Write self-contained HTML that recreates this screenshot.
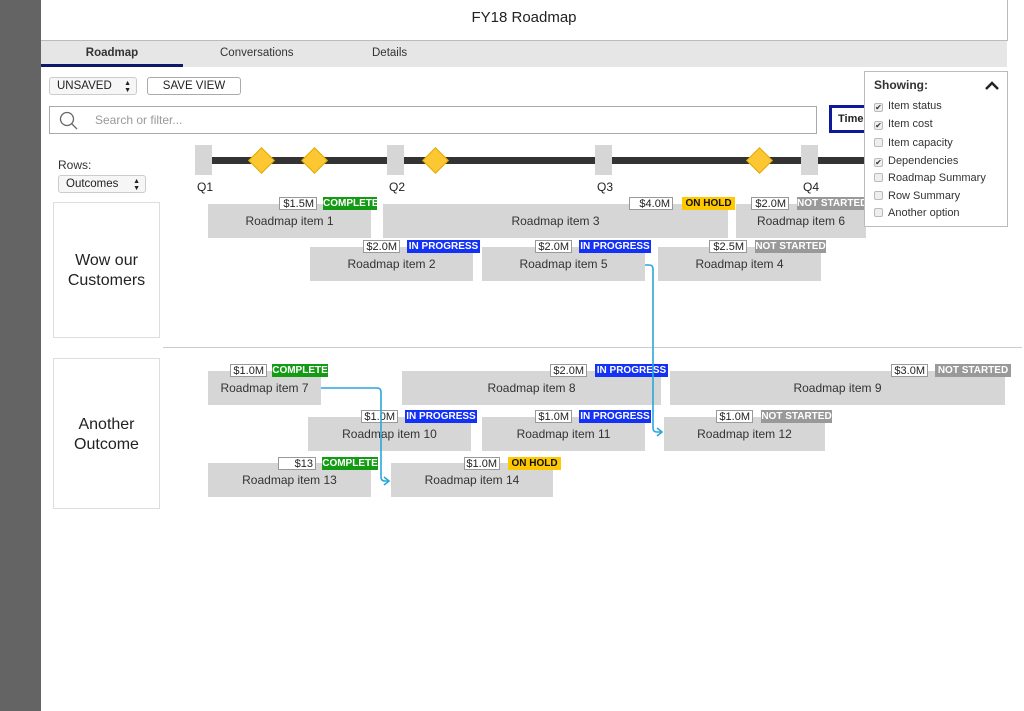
<!DOCTYPE html>
<html><head><meta charset="utf-8"><style>
*{margin:0;padding:0;box-sizing:border-box}
body{width:1024px;height:711px;position:relative;background:#fff;font-family:"Liberation Sans",Arial,sans-serif;overflow:hidden;color:#222}
.a{position:absolute}
.bar{position:absolute;background:#d6d6d6;font-size:12px;color:#333;text-align:center;line-height:34px;height:34px}
.c{position:absolute;height:13px;border:1px solid #999;background:#fff;font-size:11px;line-height:12px;text-align:right;padding-right:2px;color:#222}
.s{position:absolute;height:13px;font-size:10px;font-weight:bold;color:#fff;line-height:13px;text-align:center;white-space:nowrap;overflow:hidden}
.g{background:#149b14}.b{background:#1432f5}.y{background:#ffc800;color:#111}.n{background:#999}
.q{position:absolute;background:#d6d6d6;width:17px;height:30px;top:145px}
.ql{position:absolute;top:180px;font-size:12px}
.d{position:absolute;width:19px;height:19px;background:#fcc733;border:1px solid #e0a800;transform:rotate(45deg);top:151px}
.cb{display:inline-block;width:9px;height:9px;border:1px solid #bbb;background:#eee;border-radius:2px;margin-right:5px;vertical-align:-1px;font-size:8px;line-height:8px;text-align:center;color:#333}
.row{font-size:11px;color:#333;height:17.5px;line-height:17px}
</style></head><body>
<div class="a" style="left:0;top:0;width:41px;height:711px;background:#646464"></div>
<div class="a" style="left:41px;top:0;width:967px;height:41px;border-right:1px solid #bbb;border-bottom:1px solid #bbb;text-align:center;font-size:15px;line-height:36px">FY18 Roadmap</div>
<div class="a" style="left:41px;top:41px;width:966px;height:26px;background:#e6e6e6;font-size:11px;color:#333"></div>
<div class="a" style="left:41px;top:47px;width:142px;text-align:center;font-size:11.5px;font-weight:bold;color:#333">Roadmap</div>
<div class="a" style="left:41px;top:64px;width:142px;height:3px;background:#10186e"></div>
<div class="a" style="left:220px;top:47px;font-size:11.5px;color:#333">Conversations</div>
<div class="a" style="left:372px;top:47px;font-size:11.5px;color:#333">Details</div>
<div class="a" style="left:49px;top:77px;width:88px;height:18px;border:1px solid #ccc;border-radius:3px;background:#f6f6f6;font-size:11.5px;line-height:16px;padding-left:7px">UNSAVED<span style="position:absolute;right:5px;font-size:7px;line-height:7px;top:2px">▲<br>▼</span></div>
<div class="a" style="left:147px;top:77px;width:94px;height:18px;border:1px solid #aaa;border-radius:3px;font-size:11.5px;line-height:16px;text-align:center">SAVE VIEW</div>
<div class="a" style="left:49px;top:106px;width:768px;height:28px;border:1px solid #aaa"></div>
<svg class="a" style="left:58px;top:110px" width="24" height="22"><circle cx="9" cy="9" r="6.5" fill="none" stroke="#666" stroke-width="1.3"/><line x1="13.5" y1="13.5" x2="19" y2="19" stroke="#666" stroke-width="1.3"/></svg>
<div class="a" style="left:95px;top:113px;font-size:12px;color:#999">Search or filter...</div>
<div class="a" style="left:829px;top:105px;width:45px;height:28px;border:3px solid #10189a;font-size:11px;font-weight:bold;padding:5px 0 0 6px;overflow:hidden">Timeline</div>
<div class="a" style="left:58px;top:158px;font-size:12px;color:#333">Rows:</div>
<div class="a" style="left:58px;top:175px;width:88px;height:18px;border:1px solid #ccc;border-radius:3px;background:#f6f6f6;font-size:11.5px;line-height:16px;padding-left:7px">Outcomes<span style="position:absolute;right:5px;font-size:7px;line-height:7px;top:2px">▲<br>▼</span></div>
<div class="a" style="left:53px;top:202px;width:107px;height:136px;border:1px solid #ddd;font-size:16px;text-align:center;padding-top:48px;line-height:20px">Wow our<br>Customers</div>
<div class="a" style="left:53px;top:358px;width:107px;height:151px;border:1px solid #ddd;font-size:16px;text-align:center;padding-top:56px;line-height:20px">Another<br>Outcome</div>
<div class="a" style="left:163px;top:347px;width:859px;height:1px;background:#ccc"></div>
<div class="a" style="left:212px;top:157px;width:660px;height:7px;background:#333"></div>
<div class="q" style="left:195px"></div><div class="q" style="left:387px"></div><div class="q" style="left:595px"></div><div class="q" style="left:801px"></div>
<div class="ql" style="left:197px">Q1</div><div class="ql" style="left:389px">Q2</div><div class="ql" style="left:597px">Q3</div><div class="ql" style="left:803px">Q4</div>
<div class="d" style="left:252px"></div><div class="d" style="left:305px"></div><div class="d" style="left:426px"></div><div class="d" style="left:750px"></div>

<div class="bar" style="left:208px;top:204px;width:163px">Roadmap item 1</div>
<div class="c" style="left:279px;top:197px;width:38px">$1.5M</div><div class="s g" style="left:323px;top:197px;width:54px">COMPLETE</div>
<div class="bar" style="left:383px;top:204px;width:345px">Roadmap item 3</div>
<div class="c" style="left:629px;top:197px;width:44px">$4.0M</div><div class="s y" style="left:682px;top:197px;width:53px">ON HOLD</div>
<div class="bar" style="left:736px;top:204px;width:130px">Roadmap item 6</div>
<div class="c" style="left:751px;top:197px;width:38px">$2.0M</div><div class="s n" style="left:797px;top:197px;width:68px">NOT STARTED</div>
<div class="bar" style="left:310px;top:247px;width:163px">Roadmap item 2</div>
<div class="c" style="left:363px;top:240px;width:37px">$2.0M</div><div class="s b" style="left:407px;top:240px;width:73px">IN PROGRESS</div>
<div class="bar" style="left:482px;top:247px;width:163px">Roadmap item 5</div>
<div class="c" style="left:535px;top:240px;width:37px">$2.0M</div><div class="s b" style="left:579px;top:240px;width:72px">IN PROGRESS</div>
<div class="bar" style="left:658px;top:247px;width:163px">Roadmap item 4</div>
<div class="c" style="left:709px;top:240px;width:38px">$2.5M</div><div class="s n" style="left:755px;top:240px;width:71px">NOT STARTED</div>

<div class="bar" style="left:208px;top:371px;width:113px">Roadmap item 7</div>
<div class="c" style="left:230px;top:364px;width:37px">$1.0M</div><div class="s g" style="left:272px;top:364px;width:56px">COMPLETE</div>
<div class="bar" style="left:402px;top:371px;width:259px">Roadmap item 8</div>
<div class="c" style="left:550px;top:364px;width:37px">$2.0M</div><div class="s b" style="left:595px;top:364px;width:73px">IN PROGRESS</div>
<div class="bar" style="left:670px;top:371px;width:335px">Roadmap item 9</div>
<div class="c" style="left:891px;top:364px;width:37px">$3.0M</div><div class="s n" style="left:935px;top:364px;width:76px">NOT STARTED</div>
<div class="bar" style="left:308px;top:417px;width:163px">Roadmap item 10</div>
<div class="c" style="left:361px;top:410px;width:37px">$1.0M</div><div class="s b" style="left:405px;top:410px;width:72px">IN PROGRESS</div>
<div class="bar" style="left:482px;top:417px;width:163px">Roadmap item 11</div>
<div class="c" style="left:535px;top:410px;width:37px">$1.0M</div><div class="s b" style="left:579px;top:410px;width:72px">IN PROGRESS</div>
<div class="bar" style="left:664px;top:417px;width:161px">Roadmap item 12</div>
<div class="c" style="left:716px;top:410px;width:37px">$1.0M</div><div class="s n" style="left:761px;top:410px;width:71px">NOT STARTED</div>
<div class="bar" style="left:208px;top:463px;width:163px">Roadmap item 13</div>
<div class="c" style="left:278px;top:457px;width:38px">$13</div><div class="s g" style="left:322px;top:457px;width:56px">COMPLETE</div>
<div class="bar" style="left:391px;top:463px;width:162px">Roadmap item 14</div>
<div class="c" style="left:464px;top:457px;width:36px">$1.0M</div><div class="s y" style="left:508px;top:457px;width:53px">ON HOLD</div>

<svg class="a" style="left:0;top:0" width="1024" height="711" fill="none" stroke="#2aa7dc" stroke-width="1.6">
<path d="M645 265 H649 Q653 265 653 269 V428 Q653 432 657 432 H662"/>
<path d="M657 428 L662 432 L657 436"/>
<path d="M321 388 H377 Q381 388 381 392 V477 Q381 481 385 481 H389"/>
<path d="M384 477 L389 481 L384 485"/>
</svg>

<div class="a" style="left:864px;top:71px;width:144px;height:156px;border:1px solid #bbb;background:#fff;padding:6px 0 0 9px">
<div style="font-size:12px;font-weight:bold;color:#333;margin-bottom:6px">Showing:<svg style="position:absolute;right:8px;top:9px" width="14" height="9"><path d="M1 8 L7 2 L13 8" fill="none" stroke="#222" stroke-width="2.5"/></svg></div>
<div class="row"><span class="cb">✔</span>Item status</div>
<div class="row"><span class="cb">✔</span>Item cost</div>
<div class="row" style="margin-top:2px"><span class="cb"></span>Item capacity</div>
<div class="row"><span class="cb">✔</span>Dependencies</div>
<div class="row"><span class="cb"></span>Roadmap Summary</div>
<div class="row"><span class="cb"></span>Row Summary</div>
<div class="row"><span class="cb"></span>Another option</div>
</div>
</body></html>
